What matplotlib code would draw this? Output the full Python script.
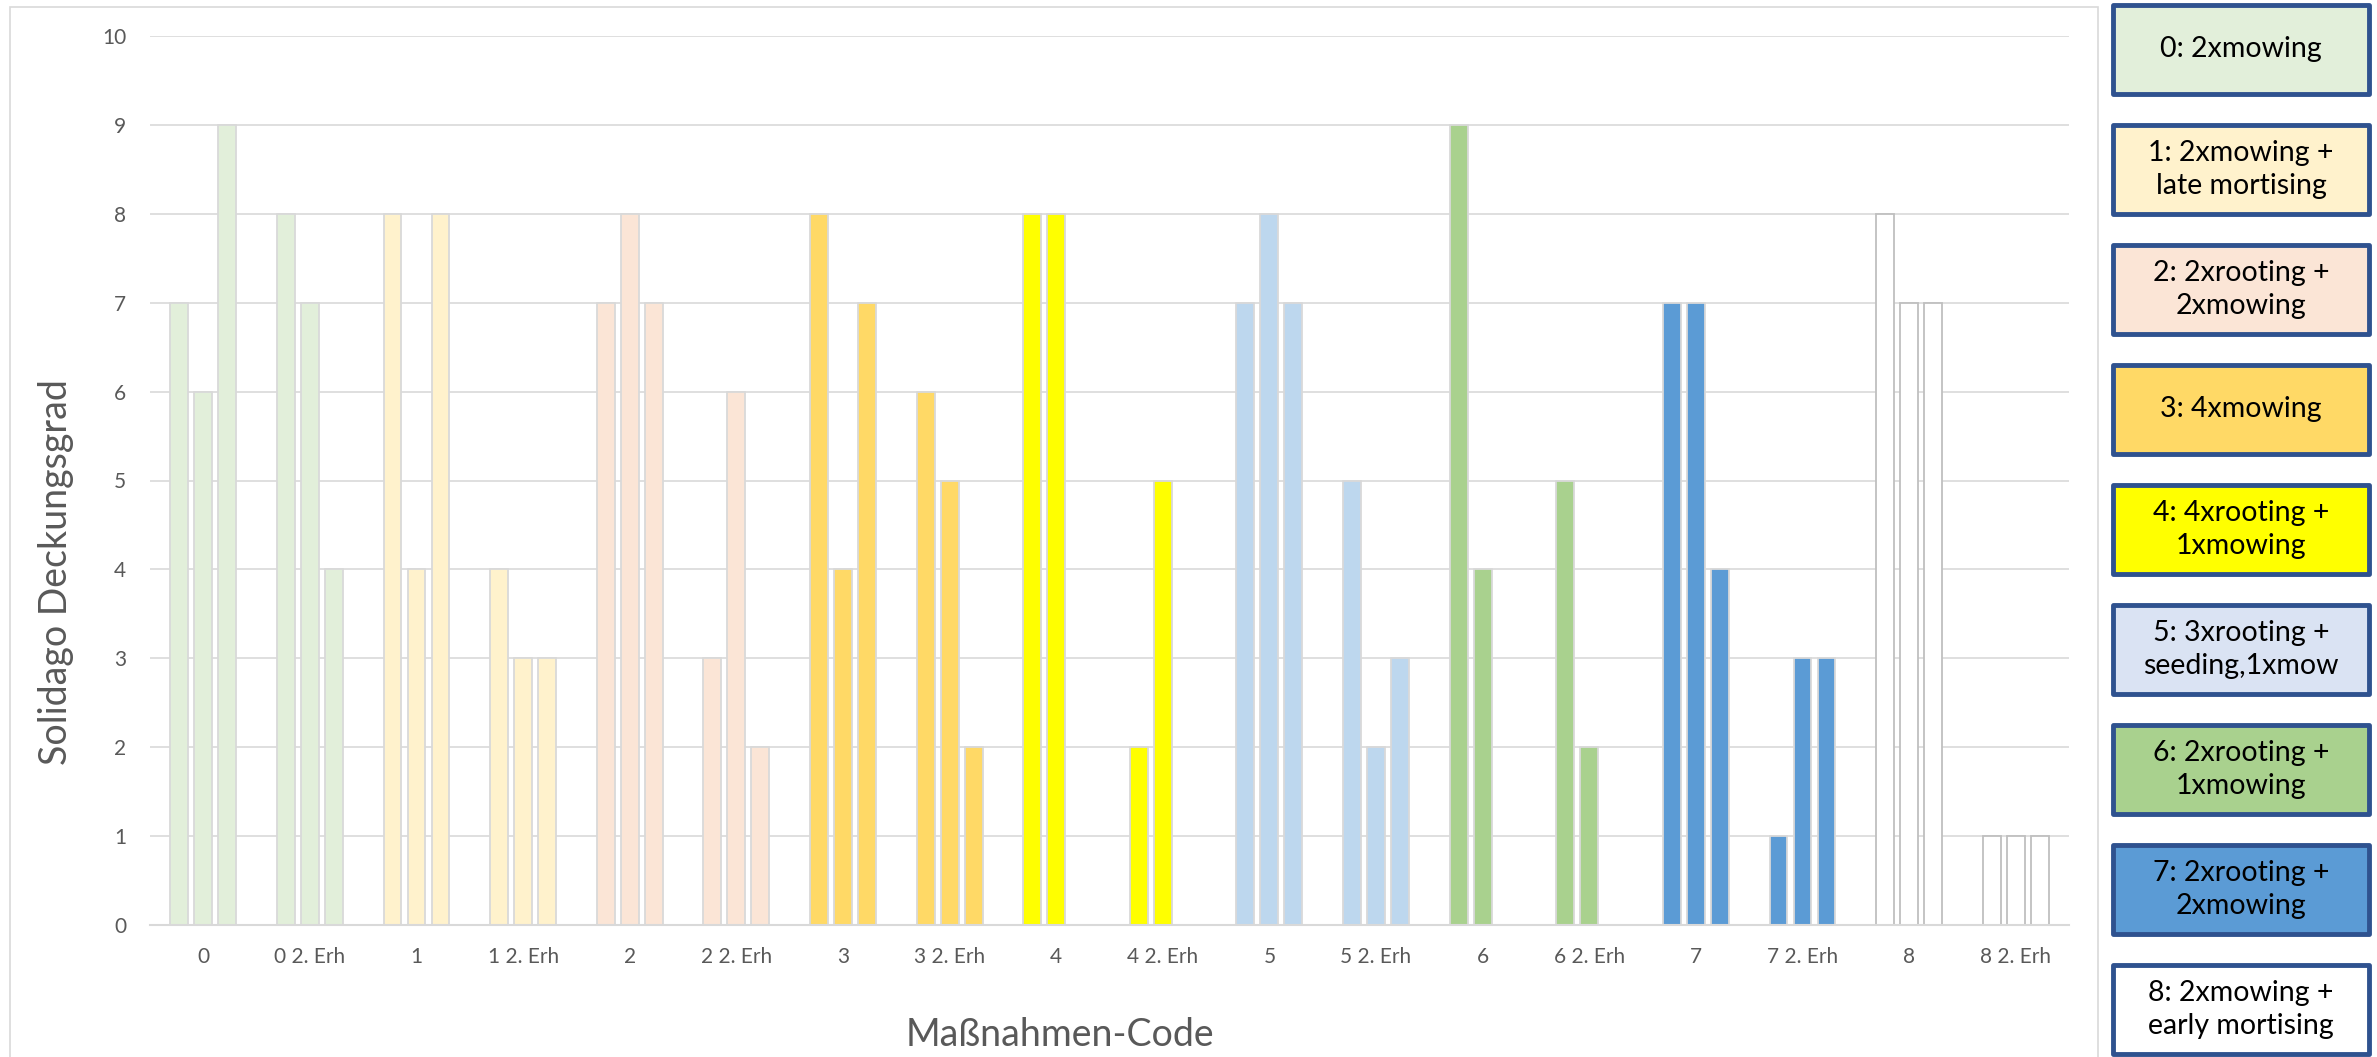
import numpy as np
import matplotlib
matplotlib.use("Agg")
from matplotlib import pyplot as plt
from matplotlib.patches import Rectangle

plt.rcParams['font.family'] = ['Lato', 'DejaVu Sans']

# Kategorien (Maßnahmen-Code)
categories = ["0", "0 2. Erh", "1", "1 2. Erh", "2", "2 2. Erh", "3", "3 2. Erh",
              "4", "4 2. Erh", "5", "5 2. Erh", "6", "6 2. Erh", "7", "7 2. Erh",
              "8", "8 2. Erh"]

# drei Aufnahmen je Kategorie
rep1 = [7, 8, 8, 4, 7, 3, 8, 6, 8, 2, 7, 5, 9, 5, 7, 1, 8, 1]
rep2 = [6, 7, 4, 3, 8, 6, 4, 5, 8, 5, 8, 2, 4, 2, 7, 3, 7, 1]
rep3 = [9, 4, 8, 3, 7, 2, 7, 2, 0, 0, 7, 3, 0, 0, 4, 3, 7, 1]

# Legende rechts
legend_texts = ["0: 2xmowing", "1: 2xmowing +\nlate mortising", "2: 2xrooting +\n2xmowing",
                "3: 4xmowing", "4: 4xrooting +\n1xmowing", "5: 3xrooting +\nseeding,1xmow",
                "6: 2xrooting +\n1xmowing", "7: 2xrooting +\n2xmowing",
                "8: 2xmowing +\nearly mortising"]

bar_colors = ["#E2EFDA", "#FFF2CC", "#FBE5D6", "#FFD966", "#FFFF00",
              "#BDD7EE", "#A9D18E", "#5B9BD5", "#FFFFFF"]
box_colors = ["#E2EFDA", "#FFF2CC", "#FBE5D6", "#FFD966", "#FFFF00",
              "#DAE3F3", "#A9D18E", "#5B9BD5", "#FFFFFF"]

W, H = 2377, 1057
fig = plt.figure(figsize=(W / 100, H / 100), dpi=100)

# Rahmen des Diagrammbereichs
fig.patches.append(Rectangle((10 / W, -0.01), (2098 - 10) / W, 1.01 - 7 / H,
                             transform=fig.transFigure, fill=False,
                             edgecolor="#D9D9D9", lw=1.2))

ax = fig.add_axes([150 / W, (H - 925) / H, (2069 - 150) / W, (925 - 36) / H])

x = np.arange(len(categories))
step = 0.225
width = 0.168
for k, vals in enumerate([rep1, rep2, rep3]):
    for i, v in enumerate(vals):
        if v == 0:
            continue
        c = bar_colors[i // 2]
        ec = "#BFBFBF" if c == "#FFFFFF" else "#D9D9D9"
        ax.bar(x[i] + (k - 1) * step, v, width, color=c, edgecolor=ec,
               linewidth=1.3, zorder=3)

ax.set_xlim(-0.5, len(categories) - 0.5)
ax.set_ylim(0, 10)
ax.set_yticks(range(11))
ax.set_xticks(x)
ax.set_xticklabels(categories)
ax.grid(axis="y", color="#D9D9D9", linewidth=1.2, zorder=0)
for s in ["top", "right", "left"]:
    ax.spines[s].set_visible(False)
ax.spines["bottom"].set_color("#D9D9D9")
ax.spines["bottom"].set_linewidth(1.5)
ax.spines["bottom"].set_zorder(4)
ax.tick_params(axis="both", length=0, labelsize=15, labelcolor="#595959")
ax.tick_params(axis="x", pad=16)
ax.tick_params(axis="y", pad=17)

fig.text(56 / W, 1 - 572 / H, "Solidago Deckungsgrad", rotation=90,
         ha="center", va="center", fontsize=27, color="#595959")
fig.text(1060 / W, 1 - 1035 / H, "Maßnahmen-Code", ha="center", va="center",
         fontsize=27, color="#595959")

# Legendenkästen
bx0, bx1 = 2113, 2369
bh = 89
for i, txt in enumerate(legend_texts):
    top = 5 + i * 120
    fig.patches.append(Rectangle((bx0 / W, 1 - (top + bh) / H), (bx1 - bx0) / W, bh / H,
                                 transform=fig.transFigure, facecolor=box_colors[i],
                                 edgecolor="#2F528F", lw=3.5, joinstyle="round"))
    fig.text((bx0 + bx1) / 2 / W, 1 - (top + bh / 2) / H, txt, ha="center", va="center",
             fontsize=20.5, color="black", linespacing=1.3, multialignment="center")

fig.savefig("out.png", dpi=100)
